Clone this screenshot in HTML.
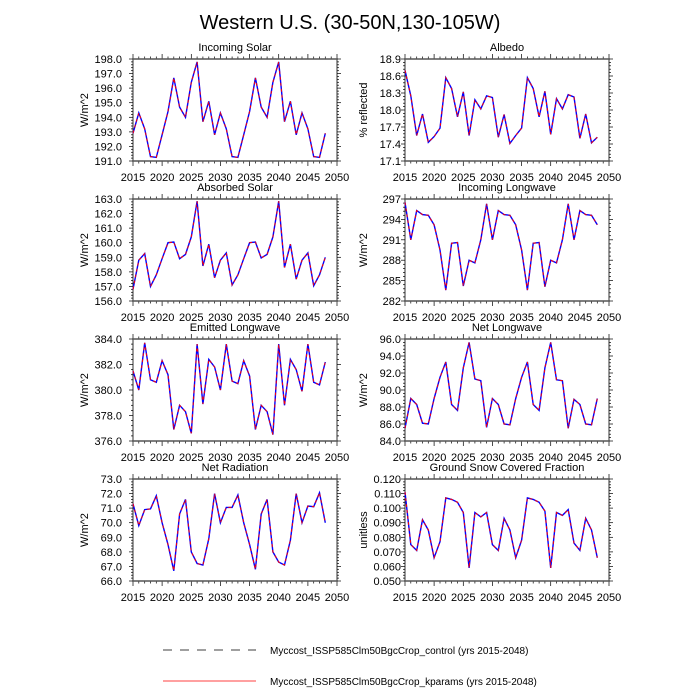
<!DOCTYPE html>
<html><head><meta charset="utf-8"><style>
html,body{margin:0;padding:0;background:#fff;}
svg{display:block;font-family:"Liberation Sans",sans-serif;}
</style></head><body>
<svg id="s" width="700" height="700" xmlns="http://www.w3.org/2000/svg">
<text x="350" y="29" font-size="20" text-anchor="middle">Western U.S. (30-50N,130-105W)</text>
<line x1="163" y1="650" x2="256" y2="650" stroke="#000" stroke-width="0.8" stroke-dasharray="9,8"/>
<text x="270" y="654" font-size="10">Myccost_ISSP585Clm50BgcCrop_control (yrs 2015-2048)</text>
<line x1="163" y1="681" x2="256" y2="681" stroke="#f00" stroke-width="0.8"/>
<text x="270" y="685" font-size="10">Myccost_ISSP585Clm50BgcCrop_kparams (yrs 2015-2048)</text>
</svg>
<script>
const P=[
{t:"Incoming Solar",yl:"W/m^2",lo:191,hi:198,st:1,d:1,col:0,row:0,
v:[192.9,194.3,193.2,191.3,191.25,192.8,194.4,196.7,194.7,194.0,196.4,197.8,193.7,195.1,192.8,194.3,193.2,191.3,191.25,192.8,194.4,196.7,194.7,194.0,196.4,197.8,193.7,195.1,192.8,194.3,193.2,191.3,191.25,192.9]},
{t:"Albedo",yl:"% reflected",lo:17.1,hi:18.9,st:0.3,d:1,col:1,row:0,
v:[18.7,18.25,17.55,17.93,17.43,17.53,17.68,18.57,18.38,17.88,18.32,17.55,18.18,18.02,18.25,18.22,17.52,17.92,17.41,17.55,17.68,18.57,18.38,17.88,18.33,17.57,18.2,18.02,18.27,18.23,17.5,17.93,17.42,17.52]},
{t:"Absorbed Solar",yl:"W/m^2",lo:156,hi:163,st:1,d:1,col:0,row:1,
v:[156.8,158.8,159.25,157.0,157.8,158.9,160.0,160.05,158.9,159.2,160.4,162.85,158.4,159.9,157.6,158.8,159.3,157.1,157.8,158.9,160.0,160.05,158.95,159.2,160.4,162.85,158.3,159.9,157.5,158.8,159.3,157.05,157.8,159.0]},
{t:"Incoming Longwave",yl:"W/m^2",lo:282,hi:297,st:3,d:0,col:1,row:1,
v:[296.5,291.0,295.3,294.7,294.6,293.2,289.5,283.6,290.5,290.6,284.2,288.0,287.6,291.0,296.3,291.0,295.3,294.7,294.6,293.2,289.5,283.6,290.5,290.6,284.1,288.0,287.6,291.0,296.3,291.0,295.3,294.7,294.6,293.2]},
{t:"Emitted Longwave",yl:"W/m^2",lo:376,hi:384,st:2,d:1,col:0,row:2,
v:[381.5,380.0,383.7,380.8,380.6,382.3,381.2,376.9,378.8,378.3,376.6,383.6,378.9,382.4,381.8,380.0,383.6,380.7,380.5,382.3,381.1,376.9,378.8,378.3,376.5,383.6,378.8,382.4,381.6,379.9,383.6,380.6,380.4,382.2]},
{t:"Net Longwave",yl:"W/m^2",lo:84,hi:96,st:2,d:1,col:1,row:2,
v:[85.5,89.0,88.3,86.1,86.0,89.0,91.5,93.3,88.3,87.6,92.6,95.6,91.3,91.1,85.6,89.0,88.3,86.0,85.9,89.0,91.5,93.3,88.3,87.6,92.6,95.6,91.2,91.1,85.5,88.9,88.3,86.0,85.9,89.0]},
{t:"Net Radiation",yl:"W/m^2",lo:66,hi:73,st:1,d:1,col:0,row:3,
v:[71.3,69.8,70.9,70.95,71.85,70.0,68.5,66.7,70.6,71.6,68.0,67.2,67.1,68.9,72.0,70.0,71.05,71.05,71.9,70.0,68.5,66.8,70.6,71.6,68.0,67.3,67.1,68.8,72.0,70.0,71.15,71.1,72.05,70.0]},
{t:"Ground Snow Covered Fraction",yl:"unitless",lo:0.05,hi:0.12,st:0.01,d:3,col:1,row:3,
v:[0.111,0.075,0.071,0.092,0.085,0.066,0.077,0.107,0.106,0.104,0.097,0.059,0.097,0.094,0.097,0.075,0.071,0.093,0.085,0.066,0.078,0.107,0.106,0.104,0.098,0.059,0.097,0.095,0.099,0.076,0.071,0.093,0.085,0.066]}
];
let h="";
for(const p of P){
 const x0=p.col?405:133,x1=x0+204,y0=59+140*p.row,y1=y0+102;
 const X=yr=>x0+(yr-2015)/35*204, Y=v=>y1-(v-p.lo)/(p.hi-p.lo)*102;
 h+=`<text x="${(x0+x1)/2}" y="${y0-8}" font-size="11" text-anchor="middle">${p.t}</text>`;
 for(let yr=2015;yr<=2050;yr++){
  const x=X(yr).toFixed(1),maj=yr%5==0,L=maj?5:2.5;
  h+=`<line x1="${x}" y1="${y0}" x2="${x}" y2="${y0-L}" stroke="#000" stroke-width="0.7"/>`;
  h+=`<line x1="${x}" y1="${y1}" x2="${x}" y2="${y1+L}" stroke="#000" stroke-width="0.7"/>`;
  if(maj)h+=`<text x="${x}" y="${y1+20}" font-size="11" text-anchor="middle">${yr}</text>`;
 }
 const n=Math.round((p.hi-p.lo)/p.st);
 const lxEnd=p.col?x0-4:x0-11;
 for(let i=0;i<=n*5;i++){
  const v=p.lo+i*p.st/5,y=Y(v).toFixed(1),maj=i%5==0,L=maj?4:2;
  h+=`<line x1="${x0}" y1="${y}" x2="${x0-L}" y2="${y}" stroke="#000" stroke-width="0.7"/>`;
  h+=`<line x1="${x1}" y1="${y}" x2="${x1+L}" y2="${y}" stroke="#000" stroke-width="0.7"/>`;
  if(maj)h+=`<text x="${lxEnd}" y="${(+y+4)}" font-size="11" text-anchor="end">${v.toFixed(p.d)}</text>`;
 }
 h+=`<rect x="${x0}" y="${y0}" width="204" height="102" fill="none" stroke="#000" stroke-width="0.8"/>`;
 h+=`<line x1="${x0}" y1="${y0}" x2="${x1}" y2="${y0}" stroke="#555" stroke-width="1.6"/>`;
 h+=`<line x1="${x0}" y1="${y1}" x2="${x1}" y2="${y1}" stroke="#555" stroke-width="1.6"/>`;
 const lx=p.col?364:85,ly=(y0+y1)/2;
 h+=`<text x="${lx}" y="${ly}" font-size="11" text-anchor="middle" dominant-baseline="middle" transform="rotate(-90 ${lx} ${ly})">${p.yl}</text>`;
 const pts=p.v.map((v,i)=>X(2015+i).toFixed(1)+","+Y(v).toFixed(1)).join(" ");
 h+=`<polyline points="${pts}" fill="none" stroke="#00f" stroke-width="1.4"/>`;
 h+=`<polyline points="${pts}" fill="none" stroke="#f00" stroke-width="1" stroke-dasharray="3,3"/>`;
}
document.getElementById("s").insertAdjacentHTML("beforeend",h);
</script>
</body></html>
